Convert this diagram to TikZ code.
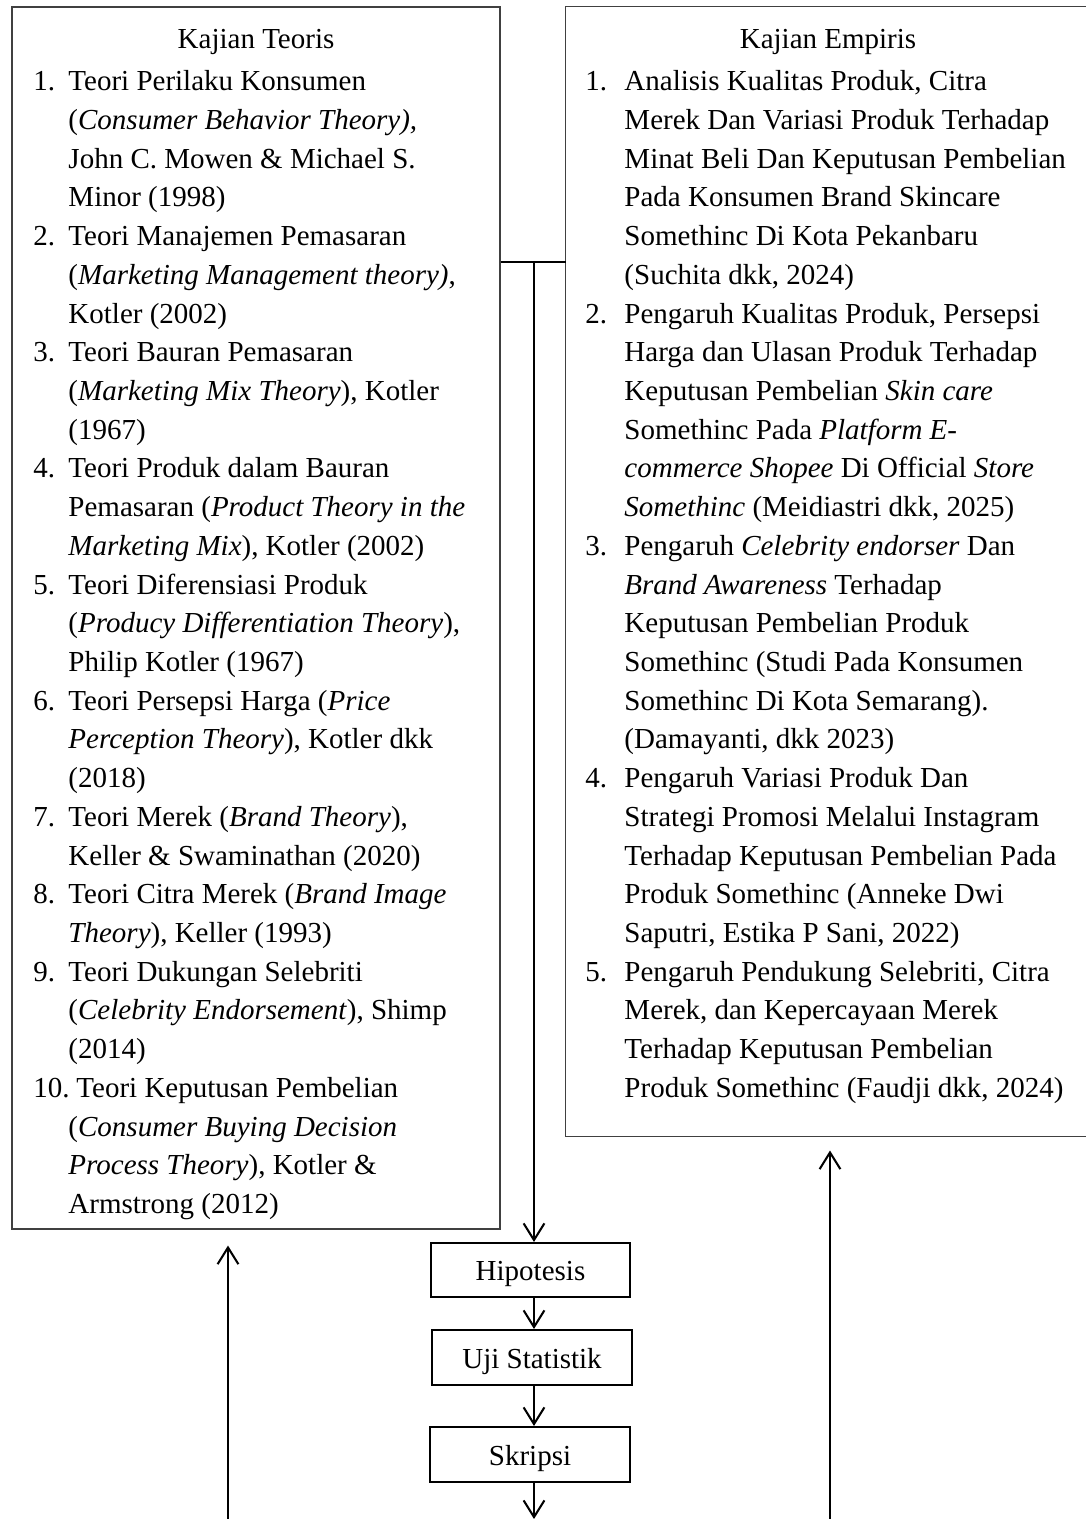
\documentclass[tikz,border=0pt]{standalone}
\usepackage{fontspec}
\setmainfont{Liberation Serif}
\usetikzlibrary{arrows.meta,fit}
\def\u{0.4138pt}
\newcommand\Lnum[2]{\node[tl] (ln#1) at (33,{90.7+(#1-1)*38.72}) {#2};}
\newcommand\Ltxt[2]{\node[tl] (lt#1) at (68,{90.7+(#1-1)*38.72}) {#2};}
\newcommand\Rnum[2]{\node[tl] (rn#1) at (585,{90.7+(#1-1)*38.72}) {#2};}
\newcommand\Rtxt[2]{\node[tl] (rt#1) at (624,{90.7+(#1-1)*38.72}) {#2};}
\begin{document}
\begin{tikzpicture}[x=0.4138pt,y=-0.4138pt,
  every node/.style={font=\fontsize{12}{14}\selectfont},
  tl/.style={anchor=base west,inner sep=0pt},
  ttl/.style={anchor=base,inner sep=0pt},
  bigbox/.style={draw=black!75,line width=0.5pt,inner sep=0pt},
  smallbox/.style={draw=black,line width=0.85pt,inner sep=0pt,text height=8.8pt,text depth=0pt},
  conn/.style={draw=black,line width=0.85pt},
  arr/.style={conn,-{Straight Barb[length=6.9pt,width=8.6pt]}}]
\useasboundingbox (0,0) rectangle (1086,1519);

% big boxes
\node[bigbox,fit={(12,7) (500,1229)}] (teori) {};
\node[inner sep=0pt,fit={(566,7) (1086,1136)}] (empiris) {};
\draw[bigbox] (empiris.north east) -- (empiris.north west) -- (empiris.south west) -- (empiris.south east);

% titles
\node[ttl] (tteori) at (256,48.3) {Kajian Teoris};
\node[ttl] (tempiris) at (828,48.3) {Kajian Empiris};

% left list
\Lnum{1}{1.}\Ltxt{1}{Teori Perilaku Konsumen}
\Ltxt{2}{(\textit{Consumer Behavior Theory),}}
\Ltxt{3}{John C. Mowen \& Michael S.}
\Ltxt{4}{Minor (1998)}
\Lnum{5}{2.}\Ltxt{5}{Teori Manajemen Pemasaran}
\Ltxt{6}{(\textit{Marketing Management theory)},}
\Ltxt{7}{Kotler (2002)}
\Lnum{8}{3.}\Ltxt{8}{Teori Bauran Pemasaran}
\Ltxt{9}{(\textit{Marketing Mix Theory}), Kotler}
\Ltxt{10}{(1967)}
\Lnum{11}{4.}\Ltxt{11}{Teori Produk dalam Bauran}
\Ltxt{12}{Pemasaran (\textit{Product Theory in the}}
\Ltxt{13}{\textit{Marketing Mix}), Kotler (2002)}
\Lnum{14}{5.}\Ltxt{14}{Teori Diferensiasi Produk}
\Ltxt{15}{(\textit{Producy Differentiation Theory}),}
\Ltxt{16}{Philip Kotler (1967)}
\Lnum{17}{6.}\Ltxt{17}{Teori Persepsi Harga (\textit{Price}}
\Ltxt{18}{\textit{Perception Theory}), Kotler dkk}
\Ltxt{19}{(2018)}
\Lnum{20}{7.}\Ltxt{20}{Teori Merek (\textit{Brand Theory}),}
\Ltxt{21}{Keller \& Swaminathan (2020)}
\Lnum{22}{8.}\Ltxt{22}{Teori Citra Merek (\textit{Brand Image}}
\Ltxt{23}{\textit{Theory}), Keller (1993)}
\Lnum{24}{9.}\Ltxt{24}{Teori Dukungan Selebriti}
\Ltxt{25}{(\textit{Celebrity Endorsement}), Shimp}
\Ltxt{26}{(2014)}
\Lnum{27}{10.}\node[tl] (lt27) at (76,{90.7+26*38.72}) {Teori Keputusan Pembelian};
\Ltxt{28}{(\textit{Consumer Buying Decision}}
\Ltxt{29}{\textit{Process Theory}), Kotler \&}
\Ltxt{30}{Armstrong (2012)}

% right list
\Rnum{1}{1.}\Rtxt{1}{Analisis Kualitas Produk, Citra}
\Rtxt{2}{Merek Dan Variasi Produk Terhadap}
\Rtxt{3}{Minat Beli Dan Keputusan Pembelian}
\Rtxt{4}{Pada Konsumen Brand Skincare}
\Rtxt{5}{Somethinc Di Kota Pekanbaru}
\Rtxt{6}{(Suchita dkk, 2024)}
\Rnum{7}{2.}\Rtxt{7}{Pengaruh Kualitas Produk, Persepsi}
\Rtxt{8}{Harga dan Ulasan Produk Terhadap}
\Rtxt{9}{Keputusan Pembelian \textit{Skin care}}
\Rtxt{10}{Somethinc Pada \textit{Platform E-}}
\Rtxt{11}{\textit{commerce Shopee} Di Official \textit{Store}}
\Rtxt{12}{\textit{Somethinc} (Meidiastri dkk, 2025)}
\Rnum{13}{3.}\Rtxt{13}{Pengaruh \textit{Celebrity endorser} Dan}
\Rtxt{14}{\textit{Brand Awareness} Terhadap}
\Rtxt{15}{Keputusan Pembelian Produk}
\Rtxt{16}{Somethinc (Studi Pada Konsumen}
\Rtxt{17}{Somethinc Di Kota Semarang).}
\Rtxt{18}{(Damayanti, dkk 2023)}
\Rnum{19}{4.}\Rtxt{19}{Pengaruh Variasi Produk Dan}
\Rtxt{20}{Strategi Promosi Melalui Instagram}
\Rtxt{21}{Terhadap Keputusan Pembelian Pada}
\Rtxt{22}{Produk Somethinc (Anneke Dwi}
\Rtxt{23}{Saputri, Estika P Sani, 2022)}
\Rnum{24}{5.}\Rtxt{24}{Pengaruh Pendukung Selebriti, Citra}
\Rtxt{25}{Merek, dan Kepercayaan Merek}
\Rtxt{26}{Terhadap Keputusan Pembelian}
\Rtxt{27}{Produk Somethinc (Faudji dkk, 2024)}

% small boxes
\node[smallbox,minimum width=199*\u,minimum height=54*\u] (hip) at (530.5,1270) {Hipotesis};
\node[smallbox,minimum width=200*\u,minimum height=55*\u] (uji) at (532,1357.5) {Uji Statistik};
\node[smallbox,minimum width=200*\u,minimum height=55*\u] (skr) at (530,1454.5) {Skripsi};

% connectors
\coordinate (spine) at (534,262);
\draw[conn] (teori.east |- spine) -- (empiris.west |- spine);
\draw[arr] (spine) -- (hip.north -| spine);
\draw[arr] (hip.south -| spine) -- (uji.north -| spine);
\draw[arr] (uji.south -| spine) -- (skr.north -| spine);
\coordinate (sbot) at (534,1519);
\draw[arr] (skr.south -| spine) -- (sbot);
\coordinate (lbot) at (228,1519);
\draw[arr,shorten >=6.6pt] (lbot) -- (lbot |- teori.south);
\coordinate (rbot) at (830,1519);
\draw[arr,shorten >=5.8pt] (rbot) -- (rbot |- empiris.south);
\end{tikzpicture}
\end{document}
